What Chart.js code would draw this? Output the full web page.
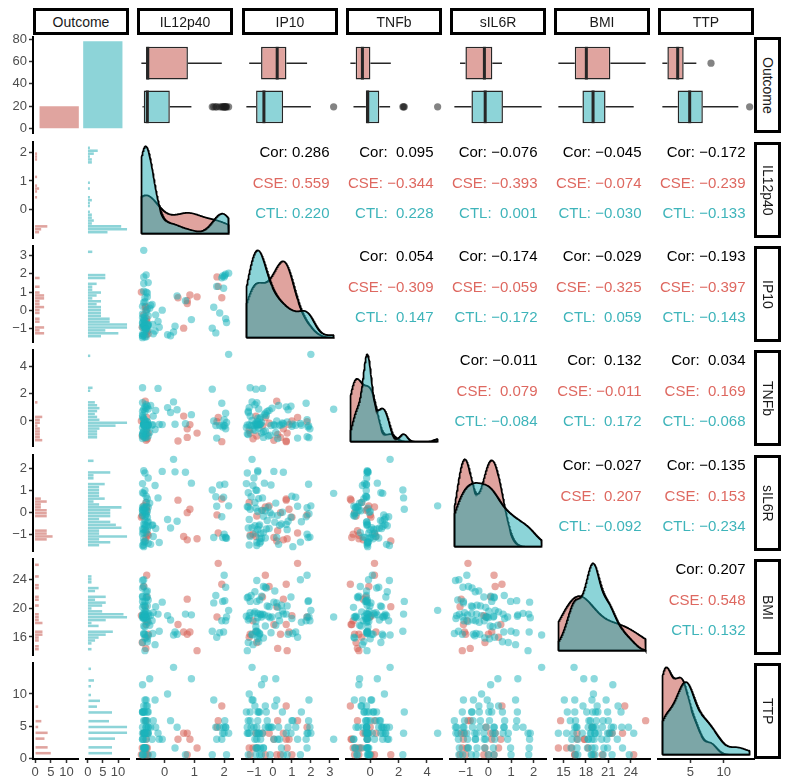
<!DOCTYPE html>
<html>
<head>
<meta charset="utf-8">
<title>ggpairs Outcome</title>
<script src="https://cdn.jsdelivr.net/npm/chart.js@4.4.1/dist/chart.umd.min.js"></script>
<style>
  html, body { margin: 0; padding: 0; background: #fff; }
  body { position: relative; width: 790px; height: 784px; overflow: hidden; font-family: "Liberation Sans", Arial, sans-serif; }
  canvas { position: absolute; }
  .strip { position: absolute; box-sizing: border-box; border: 3px solid #000; background: #fff;
           display: flex; align-items: center; justify-content: center; font-size: 14px; color: #1a1a1a; }
  .strip.side { writing-mode: vertical-rl; }
  .cor { position: absolute; font-size: 15px; line-height: 15px; text-align: right; white-space: pre; }
</style>
</head>
<body>
<script>
// ---------- data ----------
const groups = ['CSE', 'CTL'];
const varNames = ['IL12p40', 'IP10', 'TNFb', 'sIL6R', 'BMI', 'TTP'];

const il12p40CSE = [-0.55, -0.58, -0.60, -0.60, -0.62, -0.62, -0.63, -0.65, -0.70, -0.75,
  -0.78, 0.45, 0.64, 0.76, 0.76, 0.85, 1.09, 1.76, 1.80, 1.92];
const ip10CSE = [-1.20, -1.05, -0.55, -0.40, 0.05, -1.25, 0.25, 0.20, -0.20, -0.85,
  1.00, 0.70, -0.90, 0.40, 0.55, 0.85, 0.75, 1.80, 1.30, 0.70];
const tnfbCSE = [-0.80, -1.20, -0.30, 0.30, -1.30, -0.60, -0.90, 1.45, -0.10, -1.00,
  0.05, -1.35, 0.40, -1.10, -0.50, -0.20, -0.80, 0.00, 0.30, -1.40];
const sil6rCSE = [-1.00, -0.95, 0.10, 0.25, -1.10, 0.45, -0.80, -1.25, 0.30, -0.15,
  -0.20, 0.55, -1.05, 0.00, -1.20, 0.15, -1.15, -0.10, -0.90, 0.60];
const bmiCSE = [16.5, 18.3, 21.5, 24.4, 17.8, 16.1, 14.6, 20.2, 22.9, 15.4,
  19.0, 17.8, 16.8, 16.5, 21.2, 16.8, 14.3, 18.8, 26.0, 23.2];
const ttpCSE = [0.8, 1.8, 4.0, 0.8, 3.1, 1.8, 5.9, 0.8, 4.0, 1.8,
  0.8, 3.1, 4.0, 0.8, 4.0, 3.1, 1.8, 4.9, 5.9, 8.1];

const il12p40CTL = [0.30, -0.66, 2.05, -0.74, -0.70, -0.62, -0.58, 1.95, -0.70, -0.40,
  -0.74, -0.55, 2.00, -0.66, 0.10, -0.70, -0.62, -0.74, 1.60, -0.58,
  -0.47, -0.66, -0.70, 0.90, -0.55, -0.74, 2.15, -0.62, -0.32, -0.66,
  -0.70, 1.75, -0.58, -0.74, 0.42, -0.55, -0.70, -0.66, 2.02, -0.62,
  -0.18, -0.74, -0.70, 1.85, -0.58, -0.66, -0.50, -0.74, -0.55, 1.92,
  -0.70, -0.62, 0.20, -0.66, -0.74, 2.08, -0.58, -0.30, -0.70, -0.66,
  1.65, -0.62, -0.55, -0.08, -0.74, -0.70, 1.72, -0.66, 0.35, -0.74,
  -0.38, 1.98, -0.62, 0.70, -0.70, 2.05, -0.22, -0.42];
const ip10CTL = [-1.10, 0.50, 1.95, -1.30, 0.45, 1.90, -0.80, 1.85, 3.20, -0.70,
  -1.20, -0.25, 1.80, -0.85, -1.25, 1.05, -1.35, -0.65, -0.90, 0.10,
  0.30, -0.90, -0.50, -0.45, 1.50, -0.85, 2.00, -0.90, -1.05, -0.30,
  -1.25, 1.30, 0.75, -1.40, 0.80, -0.70, 1.80, -1.10, 1.88, -0.05,
  -0.85, -1.30, -0.80, -0.10, 0.95, -0.65, 0.15, -0.35, -1.00, 1.75,
  1.45, -0.95, -1.30, -1.35, 0.25, -0.60, -0.75, -0.20, -0.80, -0.50,
  0.20, 1.00, -0.75, 0.05, -0.15, -0.70, -1.15, 0.70, -0.80, -0.60,
  -1.20, 1.20, -0.95, 0.55, -0.40, -0.40, -0.55, 0.35];
const tnfbCTL = [1.40, -0.08, -0.50, 0.75, -0.22, -1.12, 0.00, -0.36, 0.88, -0.20,
  2.40, -1.00, 0.15, -0.28, 1.00, -0.18, -0.85, 0.30, 2.30, -0.26,
  1.15, -0.16, -0.70, 0.50, -0.24, 1.35, 4.75, -0.10, -0.55, 0.72,
  -0.22, -1.15, -0.02, -0.40, 0.85, -0.20, -1.05, 0.10, -0.28, 0.95,
  -0.19, -0.90, 0.25, -0.26, 1.10, -0.17, -0.75, 0.45, -0.25, 1.30,
  -0.12, -0.60, 0.65, -0.23, -1.18, -0.05, -0.45, 0.80, -0.21, -1.10,
  0.05, -0.32, 0.90, -0.20, -0.95, 0.20, -0.27, 1.05, -0.18, -0.80,
  0.40, -0.25, 1.20, -0.14, -0.65, 0.60, 2.35, -0.24];
const sil6rCTL = [2.35, 0.02, -1.08, 0.88, -0.50, -0.05, 0.05, -1.10, 0.85, -0.54,
  0.15, 0.24, -0.95, 0.98, -0.30, -1.50, 0.26, -0.92, 1.00, -0.42,
  -1.40, 0.20, -0.88, 1.30, -0.40, -1.45, 0.30, -0.90, 1.20, -0.35,
  -1.43, 0.28, -0.75, 1.28, -0.38, -1.35, 0.22, -0.66, 1.25, -0.10,
  -1.32, 0.25, -0.74, 1.22, -0.20, -1.28, 0.42, -0.72, 1.53, -0.18,
  -1.30, 0.45, -0.68, 1.75, -0.12, -1.13, 0.62, -0.70, 1.85, -0.16,
  -1.10, 0.72, -0.60, 1.82, 0.00, -1.15, 0.70, -0.52, 1.80, 0.10,
  -1.05, 0.68, -0.58, 1.78, 0.08, -1.12, 0.65, -0.56];
const bmiCTL = [16.4, 19.6, 18.3, 15.4, 20.4, 18.8, 15.9, 20.9, 18.8, 16.6,
  20.9, 18.9, 24.4, 20.9, 19.0, 16.6, 21.4, 19.1, 16.9, 22.3,
  19.0, 17.5, 22.9, 19.1, 18.1, 23.7, 19.7, 18.2, 15.1, 20.3,
  18.6, 16.1, 20.3, 18.9, 16.5, 21.1, 18.8, 16.5, 21.0, 18.8,
  16.9, 21.5, 19.3, 16.7, 21.5, 19.2, 17.7, 22.7, 19.3, 18.3,
  23.8, 19.5, 18.4, 14.3, 20.1, 18.8, 15.5, 20.2, 18.7, 16.0,
  20.7, 18.6, 16.3, 20.8, 18.7, 16.5, 21.7, 19.2, 16.8, 21.6,
  19.4, 16.8, 22.2, 19.2, 17.6, 22.8, 19.2, 18.3];
const ttpCTL = [13.9, 7.2, 4.9, 4.0, 1.8, 9.0, 5.9, 4.0, 3.1, 0.8,
  7.2, 4.9, 4.0, 1.8, 9.9, 5.9, 4.9, 3.1, 0.8, 8.1,
  4.9, 4.0, 1.8, 12.2, 7.2, 4.9, 4.0, 1.8, 9.0, 5.9,
  4.0, 3.1, 0.8, 7.2, 4.9, 4.0, 1.8, 9.0, 5.9, 4.9,
  3.1, 0.8, 7.2, 4.9, 4.0, 1.8, 12.2, 7.2, 4.9, 3.1,
  0.8, 8.1, 5.9, 4.0, 3.1, 0.8, 7.2, 4.9, 4.0, 1.8,
  9.0, 5.9, 4.0, 3.1, 0.8, 7.2, 4.9, 4.0, 1.8, 11.3,
  5.9, 4.9, 3.1, 0.8, 8.1, 4.9, 4.0, 3.1];

// tick marks
const xTicks = [[0, 1, 2], [-1, 0, 1, 2, 3], [0, 2, 4], [-1, 0, 1, 2], [15, 18, 21, 24], [5, 10]];
const yTicks = [[0, 1, 2], [-1, 0, 1, 2, 3], [0, 2, 4], [-1, 0, 1, 2], [16, 20, 24], [0, 5, 10]];
const countTicks = [0, 20, 40, 60, 80];
const histTicks = [0, 5, 10];
const groupPos = [2, 1]; // CSE drawn above CTL

// correlation labels, upper triangle row by row
const corAll = ['0.286', '0.095', '−0.076', '−0.045', '−0.172', '0.054', '−0.174', '−0.029', '−0.193',
  '−0.011', '0.132', '0.034', '−0.027', '−0.135', '0.207'];
const corCSE = ['0.559', '−0.344', '−0.393', '−0.074', '−0.239', '−0.309', '−0.059', '−0.325', '−0.397',
  '0.079', '−0.011', '0.169', '0.207', '0.153', '0.548'];
const corCTL = ['0.220', '0.228', '0.001', '−0.030', '−0.133', '0.147', '−0.172', '0.059', '−0.143',
  '−0.084', '0.172', '−0.068', '−0.092', '−0.234', '0.132'];

// ---------- look ----------
const RED_FILL = 'rgb(224,164,159)', TEAL_FILL = 'rgb(141,212,216)';
const RED_PT = 'rgba(214,96,86,0.55)', TEAL_PT = 'rgba(25,180,187,0.5)';
const RED_DENS = 'rgba(193,71,61,0.5)', TEAL_DENS = 'rgba(25,169,177,0.5)';
const RED_TXT = 'rgb(222,104,96)', TEAL_TXT = 'rgb(62,180,186)';

const colLeft = [33, 137, 242, 346, 450, 554, 658];
const rowTop = [37, 142, 246, 350, 455, 559, 663];
const PW = 96, PH = 96, M = 10, YAX = 33, XAX = 25;

Chart.defaults.font.family = '"Liberation Sans", Arial, sans-serif';

const cse = [il12p40CSE, ip10CSE, tnfbCSE, sil6rCSE, bmiCSE, ttpCSE];
const ctl = [il12p40CTL, ip10CTL, tnfbCTL, sil6rCTL, bmiCTL, ttpCTL];

// ---------- helpers ----------
const fmt = v => (v < 0 ? '−' : '') + Math.abs(v);
const pad = (lo, hi, f = 0.05) => [lo - (hi - lo) * f, hi + (hi - lo) * f];

function quantile(s, p) {
  const h = (s.length - 1) * p, i = Math.floor(h);
  return i + 1 < s.length ? s[i] + (h - i) * (s[i + 1] - s[i]) : s[i];
}

function boxStats(v) {
  const s = [...v].sort((a, b) => a - b);
  const q1 = quantile(s, 0.25), med = quantile(s, 0.5), q3 = quantile(s, 0.75), iqr = q3 - q1;
  const loF = q1 - 1.5 * iqr, hiF = q3 + 1.5 * iqr;
  const inside = s.filter(x => x >= loF && x <= hiF);
  return { q1, med, q3, lo: inside[0], hi: inside[inside.length - 1], out: s.filter(x => x < loF || x > hiF) };
}

// gaussian density, bandwidth like R's bw.nrd0
function kde(v, lo, hi) {
  const n = v.length, mean = v.reduce((a, b) => a + b, 0) / n;
  const sd = Math.sqrt(v.reduce((a, b) => a + (b - mean) ** 2, 0) / (n - 1));
  const s = [...v].sort((a, b) => a - b);
  let k = Math.min(sd, (quantile(s, 0.75) - quantile(s, 0.25)) / 1.34);
  if (!(k > 0)) k = sd || 1;
  const bw = 0.9 * k * Math.pow(n, -0.2);
  const out = [];
  for (let g = 0; g <= 255; g++) {
    const x = lo + (hi - lo) * g / 255;
    let d = 0;
    v.forEach(xi => { const u = (x - xi) / bw; d += Math.exp(-0.5 * u * u); });
    out.push({ x, y: d / (n * bw * Math.sqrt(2 * Math.PI)) });
  }
  return out;
}

const info = varNames.map((name, k) => {
  const all = cse[k].concat(ctl[k]);
  const lo = Math.min(...all), hi = Math.max(...all), bw = (hi - lo) / 29;
  const [min, max] = pad(lo, hi);
  const [hmin, hmax] = pad(lo - bw / 2, hi + bw / 2);
  return { lo, hi, bw, min, max, hmin, hmax };
});

function binCounts(k, vals) {
  const { lo, bw } = info[k];
  const counts = new Array(30).fill(0);
  vals.forEach(v => { counts[Math.min(29, Math.max(0, Math.round((v - lo) / bw)))]++; });
  return counts.map((n, j) => ({ x: n, y: lo + j * bw }));
}

// linear scale; hidden unless pos is given. ticks also pin the bar ruler on hidden index scales
function scale(min, max, ticks, pos, size) {
  const s = { type: 'linear', min, max, offset: false, display: false, grid: { offset: false } };
  if (ticks) s.afterBuildTicks = sc => { sc.ticks = ticks.map(v => ({ value: v })); };
  if (!pos) return s;
  return Object.assign(s, {
    display: true, position: pos,
    afterFit: sc => { if (pos === 'left') sc.width = size; else sc.height = size; },
    ticks: { color: '#4d4d4d', font: { size: 13 }, padding: 2, autoSkip: false, maxRotation: 0, callback: v => fmt(v) },
    grid: { offset: false, drawOnChartArea: false, drawTicks: true, tickLength: 4, tickColor: '#333', tickWidth: 1.5 },
    border: { display: true, color: '#000', width: 2 }
  });
}

function panel(px, py, pw, type, datasets, xs, ys, axes, plugins) {
  const left = axes.y ? YAX : M, bottom = axes.x ? XAX : M;
  const cv = document.createElement('canvas');
  cv.width = pw + left + M; cv.height = PH + M + bottom;
  cv.style.left = (px - left) + 'px'; cv.style.top = (py - M) + 'px';
  document.body.appendChild(cv);
  return new Chart(cv, {
    type, data: { datasets },
    options: {
      responsive: false, animation: false, devicePixelRatio: 1, events: [],
      layout: { padding: { left: axes.y ? 0 : M, right: M, top: M, bottom: axes.x ? 0 : M } },
      scales: { x: xs, y: ys },
      plugins: { legend: { display: false }, tooltip: { enabled: false } }
    },
    plugins: plugins || []
  });
}

function strip(x, y, w, h, text, side) {
  const d = document.createElement('div');
  d.className = 'strip' + (side ? ' side' : '');
  Object.assign(d.style, { left: x + 'px', top: y + 'px', width: w + 'px', height: h + 'px' });
  d.textContent = text;
  document.body.appendChild(d);
}

// ---------- row 1: Outcome ----------
const nGroup = [cse[0].length, ctl[0].length];
panel(colLeft[0], rowTop[0], PW, 'bar',
  [{ data: [{ x: 1, y: nGroup[0] }, { x: 2, y: nGroup[1] }], backgroundColor: [RED_FILL, TEAL_FILL],
     borderWidth: 0, categoryPercentage: 0.9, barPercentage: 1 }],
  scale(0.4, 2.6, [1, 2]), scale(...pad(0, Math.max(...nGroup)), countTicks, 'left', YAX), { y: true });

for (let k = 0; k < 6; k++) {
  const sts = [Object.assign(boxStats(cse[k]), { pos: groupPos[0] }), Object.assign(boxStats(ctl[k]), { pos: groupPos[1] })];
  const outliers = [];
  sts.forEach(s => s.out.forEach(v => outliers.push({ x: v, y: s.pos })));
  const boxLines = {
    id: 'boxLines',
    afterDatasetsDraw(chart) {
      const { ctx, scales: { x, y } } = chart;
      ctx.save();
      ctx.strokeStyle = '#262626';
      sts.forEach(s => {
        const py = y.getPixelForValue(s.pos);
        const half = Math.abs(y.getPixelForValue(s.pos + 0.375) - py);
        ctx.lineWidth = 1.5;
        ctx.beginPath();
        ctx.moveTo(x.getPixelForValue(s.lo), py); ctx.lineTo(x.getPixelForValue(s.q1), py);
        ctx.moveTo(x.getPixelForValue(s.q3), py); ctx.lineTo(x.getPixelForValue(s.hi), py);
        ctx.stroke();
        ctx.lineWidth = 3;
        const mx = x.getPixelForValue(s.med);
        ctx.beginPath(); ctx.moveTo(mx, py - half); ctx.lineTo(mx, py + half); ctx.stroke();
      });
      ctx.restore();
    }
  };
  panel(colLeft[k + 1], rowTop[0], PW, 'bar', [
    { type: 'scatter', data: outliers, backgroundColor: 'rgba(30,30,30,0.55)', pointRadius: 3.6, borderWidth: 0 },
    { type: 'bar', indexAxis: 'y', data: sts.map(s => ({ y: s.pos, x: [s.q1, s.q3] })),
      backgroundColor: [RED_FILL, TEAL_FILL], borderColor: '#262626', borderWidth: 1.5, borderSkipped: false,
      categoryPercentage: 0.75, barPercentage: 1 }
  ], scale(info[k].min, info[k].max), scale(0.4, 2.6, [1, 2]), {}, [boxLines]);
}

// ---------- rows 2-7 ----------
const pts = (a, b) => a.map((v, n) => ({ x: v, y: b[n] }));
const outline = d => [{ x: d[0].x, y: 0 }, ...d, { x: d[d.length - 1].x, y: 0 }, { x: d[0].x, y: 0 }];

for (let i = 0; i < 6; i++) {
  const py = rowTop[i + 1], bottomRow = i === 5;

  // Outcome facets (horizontal histograms)
  const hC = binCounts(i, cse[i]), hT = binCounts(i, ctl[i]);
  const [cmin, cmax] = pad(0, Math.max(...hC.map(b => b.x), ...hT.map(b => b.x)));
  [{ x: 33, w: 45, data: hC, color: RED_FILL, yAxis: true }, { x: 86, w: 43, data: hT, color: TEAL_FILL, yAxis: false }]
    .forEach(f => {
      panel(f.x, py, f.w, 'bar',
        [{ indexAxis: 'y', data: f.data, backgroundColor: f.color, borderWidth: 0, categoryPercentage: 0.88, barPercentage: 1 }],
        bottomRow ? scale(cmin, cmax, histTicks, 'bottom', XAX) : scale(cmin, cmax),
        f.yAxis ? scale(info[i].hmin, info[i].hmax, yTicks[i], 'left', YAX) : scale(info[i].hmin, info[i].hmax, yTicks[i]),
        { y: f.yAxis, x: bottomRow });
    });

  for (let j = 0; j <= i; j++) {
    const px = colLeft[j + 1];
    const xs = bottomRow ? scale(info[j].min, info[j].max, xTicks[j], 'bottom', XAX) : scale(info[j].min, info[j].max);
    if (j < i) {
      panel(px, py, PW, 'scatter', [
        { data: pts(ctl[j], ctl[i]), backgroundColor: TEAL_PT, pointRadius: 3.7, borderWidth: 0 },
        { data: pts(cse[j], cse[i]), backgroundColor: RED_PT, pointRadius: 3.7, borderWidth: 0 }
      ], xs, scale(info[i].min, info[i].max), { x: bottomRow });
    } else {
      const dC = kde(cse[i], info[i].lo, info[i].hi), dT = kde(ctl[i], info[i].lo, info[i].hi);
      const dmax = Math.max(...dC.map(p => p.y), ...dT.map(p => p.y));
      const line = { showLine: true, pointRadius: 0, tension: 0 };
      panel(px, py, PW, 'scatter', [
        Object.assign({ data: outline(dT), borderColor: '#000', borderWidth: 1.7, fill: false }, line),
        Object.assign({ data: dT, borderWidth: 0, fill: 'origin', backgroundColor: TEAL_DENS }, line),
        Object.assign({ data: outline(dC), borderColor: '#000', borderWidth: 1.7, fill: false }, line),
        Object.assign({ data: dC, borderWidth: 0, fill: 'origin', backgroundColor: RED_DENS }, line)
      ], xs, scale(...pad(0, dmax)), { x: bottomRow });
    }
  }
}

// ---------- correlation text ----------
let t = 0;
for (let i = 0; i < 6; i++) {
  for (let j = i + 1; j < 6; j++) {
    const vals = [corAll[t], corCSE[t], corCTL[t]];
    const w = Math.max(...vals.map(s => s.length));
    [['Cor', '#000'], [groups[0], RED_TXT], [groups[1], TEAL_TXT]].forEach(([lab, col], L) => {
      const d = document.createElement('div');
      d.className = 'cor';
      d.textContent = lab + ': ' + vals[L].padStart(w, ' ');
      Object.assign(d.style, {
        color: col, left: (colLeft[j + 1] - 30) + 'px', width: (PW - 8.5 + 30) + 'px',
        top: (rowTop[i + 1] + [9.5, 40, 70.5][L] - 7.5) + 'px'
      });
      document.body.appendChild(d);
    });
    t++;
  }
}

// ---------- strips ----------
['Outcome', ...varNames].forEach((name, c) => strip(colLeft[c], 8, PW, 27, name, false));
['Outcome', ...varNames].forEach((name, r) => strip(754, rowTop[r], 27, PH, name, true));
</script>
</body>
</html>
